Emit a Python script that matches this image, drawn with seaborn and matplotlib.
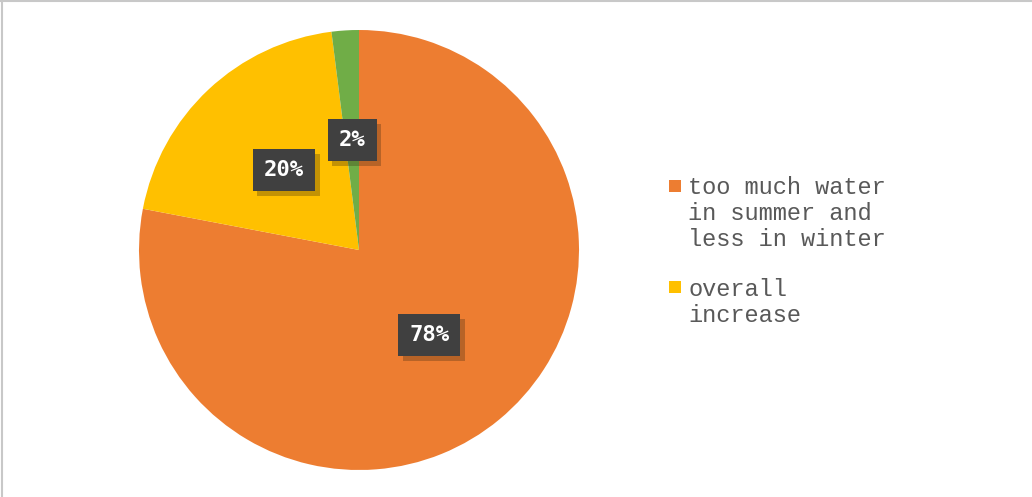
import matplotlib
matplotlib.use("Agg")
import numpy as np
import matplotlib.pyplot as plt
import matplotlib.patheffects as pe
from matplotlib.patches import Rectangle
from matplotlib.lines import Line2D
import seaborn as sns

# Survey answers about expected water changes
categories = ["too much water\nin summer and\nless in winter", "overall\nincrease", "other"]
shares = [78, 20, 2]
pct_labels = ["78%", "20%", "2%"]
legend_entries = 2  # only the first two answers appear in the legend

sns.set_theme(style="white")
plt.rcParams["font.family"] = ["Liberation Mono", "DejaVu Sans Mono"]

colors = ["#ED7D31", "#FFC000", "#70AD47"]

W, H = 1032, 497
fig = plt.figure(figsize=(W / 100, H / 100), dpi=100)
fig.patch.set_facecolor("white")

# pie area: centre (359, 250) px, radius 220 px
cx, cy, r = 359, 250, 220
ax = fig.add_axes([(cx - r) / W, (H - cy - r) / H, 2 * r / W, 2 * r / H])

wedges, _ = ax.pie(shares, colors=colors, startangle=90, counterclock=False,
                   wedgeprops=dict(linewidth=0))
ax.set_xlim(-1, 1)
ax.set_ylim(-1, 1)
ax.set_aspect("equal")
ax.axis("off")

# value labels in dark boxes with a soft drop shadow
for w, lab in zip(wedges, pct_labels):
    mid = np.deg2rad((w.theta1 + w.theta2) / 2)
    x, y = 0.5 * np.cos(mid), 0.5 * np.sin(mid)
    t = ax.text(x, y, lab, ha="center", va="center", color="white",
                fontsize=16, fontweight="bold", family=["DejaVu Sans Mono"],
                bbox=dict(boxstyle="square,pad=0.5", facecolor="#404040",
                          edgecolor="none"))
    t.get_bbox_patch().set_path_effects([
        pe.SimplePatchShadow(offset=(3.5, -3.5), shadow_rgbFace="#3a2a10", alpha=0.3),
        pe.Normal()])

# legend: square marker beside the first line of each wrapped entry
px = lambda v: v / W
py = lambda v: 1 - v / H
entry_top = [186, 287]
line_step = 26
for i in range(legend_entries):
    y0 = entry_top[i]
    fig.add_artist(Rectangle((px(669), py(y0 + 6)), 12 / W, 12 / H,
                             facecolor=colors[i], edgecolor="none",
                             transform=fig.transFigure))
    for j, line in enumerate(categories[i].split("\n")):
        fig.text(px(688), py(y0 + 2 + j * line_step), line, ha="left", va="center",
                 color="#595959", fontsize=17, family=["Liberation Mono"])

# thin frame lines along the left and top edges
fig.add_artist(Line2D([1.5 / W, 1.5 / W], [0, 1], color="#C8C8C8", lw=1.5,
                      transform=fig.transFigure))
fig.add_artist(Line2D([0, 1], [1 - 0.5 / H, 1 - 0.5 / H], color="#C8C8C8", lw=1.5,
                      transform=fig.transFigure))

fig.savefig("out.png", dpi=100)
